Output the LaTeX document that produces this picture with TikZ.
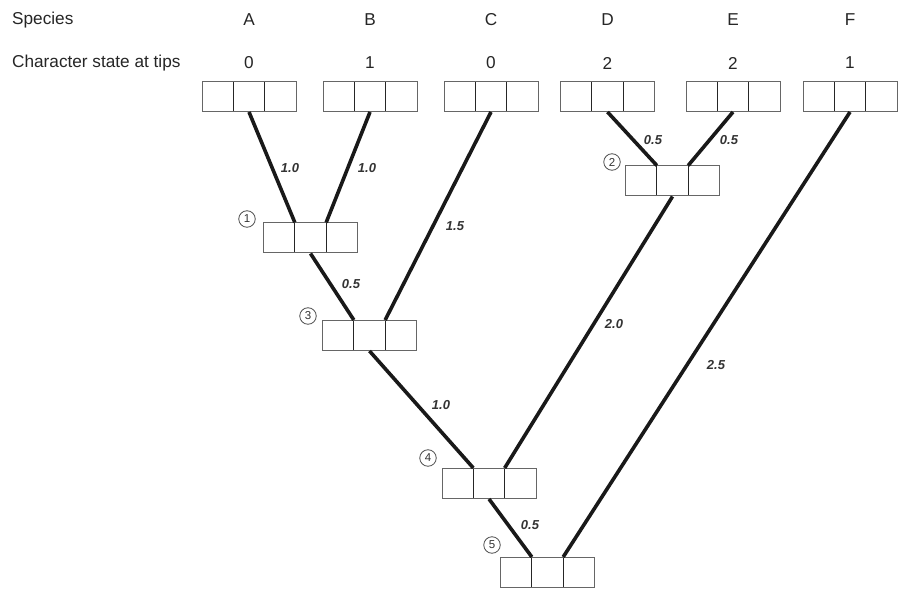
\documentclass[tikz,border=0pt]{standalone}
\usepackage{fontspec}
\setmainfont{Liberation Sans}
\usetikzlibrary{positioning}

\tikzstyle{charbox}=[rectangle,draw=black!60,line width=1pt,fill=white,minimum width=94pt,minimum height=30pt,inner sep=0pt,
  path picture={\draw[black!85,line width=0.9pt] ([xshift=-15.67pt]path picture bounding box.north) -- ([xshift=-15.67pt]path picture bounding box.south)
                ([xshift=15.67pt]path picture bounding box.north) -- ([xshift=15.67pt]path picture bounding box.south);}]
\tikzstyle{branch} = [draw,line width=3.6pt,black!90]
\tikzstyle{head} = [font=\fontsize{17.2}{20}\selectfont,text=black!85,inner sep=0pt]
\tikzstyle{len} = [font=\fontsize{13}{15}\selectfont\bfseries\itshape,text=black!80,inner sep=0pt]
\tikzstyle{nodenum} = [circle,draw=black!70,line width=0.8pt,minimum size=16.5pt,inner sep=0pt,font=\fontsize{11.5}{12}\selectfont,text=black!80]

\begin{document}
\begin{tikzpicture}[x=1pt,y=-1pt]
	\useasboundingbox[fill=white] (0,0) rectangle (901,593);
	% Row labels
	\node[head,anchor=west] (species) at (12,20) {Species};
	\node[head,anchor=west] (states) at (12,63) {Character state at tips};
	% Tips
	\node[charbox] (A) at (249,96.5) {};
		\node[charbox] (B) at (370,96.5) {};
		\node[charbox] (C) at (491,96.5) {};
		\node[charbox] (D) at (607.5,96.5) {};
		\node[charbox] (E) at (733,96.5) {};
		\node[charbox] (F) at (850,96.5) {};
	\foreach \tip/\st in {A/0, B/1, C/0, D/2, E/2, F/1}{
		\node[head] (name\tip) at (\tip |- species) {\tip};
		\node[head] (state\tip) at (\tip |- states) {\st};
	}
	% Ancestral nodes
	\node[charbox] (n1) at (310.5,238) {};
		\node[charbox] (n2) at (672.5,181) {};
		\node[charbox] (n3) at (369.5,335.5) {};
		\node[charbox] (n4) at (489,483.5) {};
		\node[charbox] (n5) at (547.5,572.5) {};
	\foreach \n in {n1,n2,n3,n4,n5}{
		\coordinate (\n l) at ([xshift=-15.67pt]\n.north);
		\coordinate (\n r) at ([xshift=15.67pt]\n.north);
	}
	% Node numbers
	\node[nodenum] (c1) at (247,219) {1};
	\node[nodenum] (c2) at (612,162) {2};
	\node[nodenum] (c3) at (308,316) {3};
	\node[nodenum] (c4) at (428,458) {4};
	\node[nodenum] (c5) at (492,545) {5};
	% Branches
	\foreach \source/ \dest in {A/n1l, B/n1r, n1/n3l, C/n3r, D/n2l, E/n2r, n3/n4l, n2/n4r, n4/n5l, F/n5r}
		\path[branch] (\source.south) to (\dest);
	% Branch lengths
	\node[len] (lA) at (290,168) {1.0};
	\node[len] (lB) at (367,168) {1.0};
	\node[len] (lC) at (455,226) {1.5};
	\node[len] (l13) at (351,284) {0.5};
	\node[len] (lD) at (653,140) {0.5};
	\node[len] (lE) at (729,140) {0.5};
	\node[len] (l24) at (614,324) {2.0};
	\node[len] (l34) at (441,405) {1.0};
	\node[len] (lF) at (716,365) {2.5};
	\node[len] (l45) at (530,525) {0.5};
\end{tikzpicture}
\end{document}
